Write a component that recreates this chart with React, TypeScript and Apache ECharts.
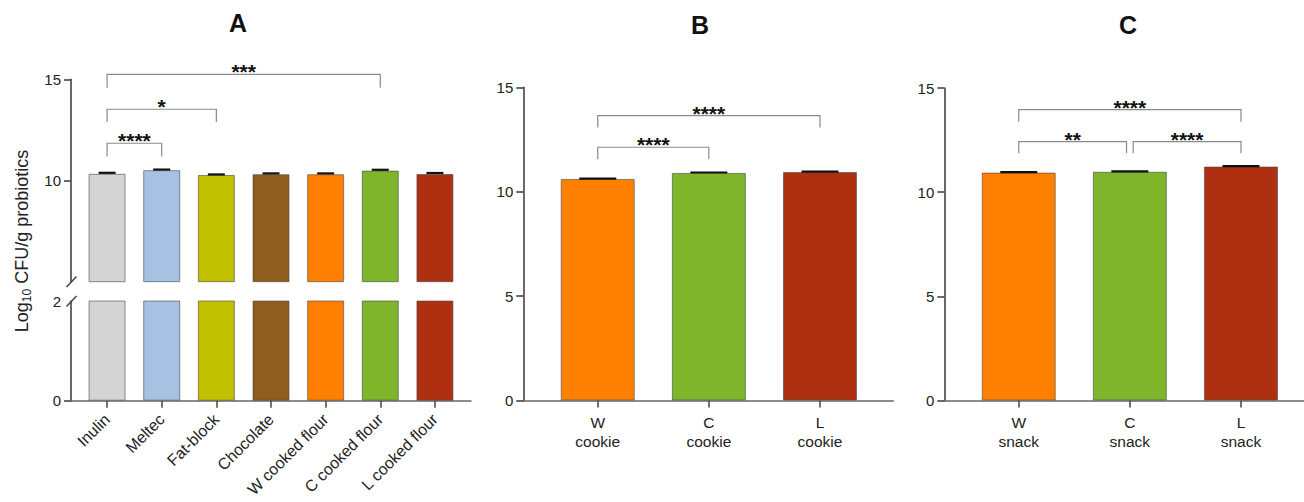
import React, { useEffect, useRef } from "react";
import * as echarts from "echarts";

const FONT = "'Liberation Sans', Arial, Helvetica, sans-serif";

const A_CATEGORIES = ["Inulin", "Meltec", "Fat-block", "Chocolate", "W cooked flour", "C cooked flour", "L cooked flour"];
const A_VALUES = [10.33, 10.51, 10.27, 10.31, 10.31, 10.49, 10.32];
const A_ERRORS = [0.05, 0.03, 0.03, 0.04, 0.04, 0.04, 0.05];
const A_COLORS = ["#D4D4D4", "#A6C1E2", "#C2C100", "#8F5E1F", "#FF8000", "#7FB52A", "#AF2F11"];
// bracket: [fromIndex, toIndex, barY, legY]
const A_BRACKETS = [
  [0, 1, 11.84, 11.18],
  [0, 2, 13.52, 12.89],
  [0, 5, 15.24, 14.58],
];
const A_STARS = ["****", "*", "***"];

const B_CATEGORIES = ["W\ncookie", "C\ncookie", "L\ncookie"];
const B_VALUES = [10.61, 10.9, 10.94];
const B_ERRORS = [0.02, 0.02, 0.02];
const B_COLORS = ["#FF8000", "#7FB52A", "#AF2F11"];
const B_BRACKETS = [
  [0, 2, 13.64, 13.08],
  [0, 1, 12.13, 11.55],
];
const B_STARS = ["****", "****"];

const C_CATEGORIES = ["W\nsnack", "C\nsnack", "L\nsnack"];
const C_VALUES = [10.94, 10.98, 11.23];
const C_ERRORS = [0.02, 0.02, 0.02];
const C_COLORS = ["#FF8000", "#7FB52A", "#AF2F11"];
const C_BRACKETS = [
  [0, 2, 13.96, 13.38],
  [0, 0.97, 12.43, 11.87],
  [1.03, 2, 12.43, 11.87],
];
const C_STARS = ["****", "**", "****"];

const AXIS_COLOR = "#444";
const TEXT_COLOR = "#222";
const BRACKET_COLOR = "#8a8a8a";

function barData(values: number[], colors: string[]) {
  return values.map((v, i) => ({
    value: [i, v],
    itemStyle: { color: colors[i] },
  }));
}

function barSeries(xi: number, yi: number, values: number[], colors: string[], width: number) {
  return {
    type: "bar",
    xAxisIndex: xi,
    yAxisIndex: yi,
    barWidth: width,
    clip: true,
    data: barData(values, colors),
    itemStyle: { borderColor: "rgba(70,70,70,0.6)", borderWidth: 1 },
  };
}

function errorSeries(xi: number, yi: number, values: number[], errors: number[], cap: number) {
  return {
    type: "custom",
    xAxisIndex: xi,
    yAxisIndex: yi,
    encode: { x: 0, y: 1 },
    data: values.map((v, i) => [i, v, errors[i]]),
    z: 5,
    renderItem: (params: any, api: any) => {
      const x = api.value(0);
      const v = api.value(1);
      const e = api.value(2);
      const base = api.coord([x, v]);
      const top = api.coord([x, v + e]);
      return {
        type: "group",
        children: [
          {
            type: "line",
            shape: { x1: base[0], y1: base[1], x2: top[0], y2: top[1] },
            style: { stroke: "#111", lineWidth: 1.5 },
          },
          {
            type: "line",
            shape: { x1: top[0] - cap / 2, y1: top[1], x2: top[0] + cap / 2, y2: top[1] },
            style: { stroke: "#111", lineWidth: 2.2 },
          },
        ],
      };
    },
  };
}

function bracketSeries(xi: number, yi: number, brackets: number[][], stars: string[]) {
  return {
    type: "custom",
    xAxisIndex: xi,
    yAxisIndex: yi,
    encode: { x: [0, 1], y: [2, 3] },
    clip: false,
    z: 6,
    data: brackets,
    renderItem: (params: any, api: any) => {
      const x1 = api.value(0);
      const x2 = api.value(1);
      const y = api.value(2);
      const yl = api.value(3);
      const p1 = api.coord([x1, yl]);
      const p2 = api.coord([x1, y]);
      const p3 = api.coord([x2, y]);
      const p4 = api.coord([x2, yl]);
      return {
        type: "group",
        children: [
          {
            type: "polyline",
            shape: { points: [p1, p2, p3, p4] },
            style: { stroke: BRACKET_COLOR, lineWidth: 1.2, fill: "none" },
          },
          {
            type: "text",
            style: {
              text: stars[params.dataIndex],
              x: (p2[0] + p3[0]) / 2,
              y: p2[1] - 2.5,
              align: "center",
              verticalAlign: "middle",
              fontFamily: FONT,
              fontWeight: "bold",
              fontSize: 21,
              fill: "#111",
            },
          },
        ],
      };
    },
  };
}

function catXAxis(gridIndex: number, cats: string[], min: number, max: number, rotate: number, fontSize: number, margin: number, show = true) {
  const idx = cats.map((_, i) => i);
  return {
    type: "value",
    gridIndex,
    min,
    max,
    show,
    splitLine: { show: false },
    axisLine: { show: true, onZero: false, lineStyle: { color: "#666", width: 1.5 } },
    axisTick: { show: true, length: 7, customValues: idx, lineStyle: { color: AXIS_COLOR, width: 1.5 } },
    axisLabel: {
      show: true,
      customValues: idx,
      rotate,
      margin,
      color: TEXT_COLOR,
      fontFamily: FONT,
      fontSize,
      lineHeight: 19,
      formatter: (v: number) => cats[Math.round(v)] ?? "",
    },
  };
}

function valYAxis(gridIndex: number, min: number, max: number, ticks: number[], labels: number[]) {
  return {
    type: "value",
    gridIndex,
    min,
    max,
    splitLine: { show: false },
    axisLine: { show: true, onZero: false, lineStyle: { color: AXIS_COLOR, width: 1.6 } },
    axisTick: { show: true, length: 7, customValues: ticks, lineStyle: { color: AXIS_COLOR, width: 1.6 } },
    axisLabel: {
      show: true,
      customValues: labels,
      margin: 10,
      color: TEXT_COLOR,
      fontFamily: FONT,
      fontSize: 15,
    },
  };
}

export default function App() {
  const ref = useRef<HTMLDivElement>(null);
  useEffect(() => {
    if (!ref.current) return;
    const chart = echarts.init(ref.current, null, { renderer: "svg", width: 1304, height: 502 });
    const option: any = {
      animation: false,
      backgroundColor: "#ffffff",
      grid: [
        { left: 71, top: 79.3, width: 400, height: 202.4, containLabel: false, outerBoundsMode: "none" },
        { left: 71, top: 301, width: 400, height: 99.7, containLabel: false, outerBoundsMode: "none" },
        { left: 523.3, top: 87.3, width: 370, height: 313.2, containLabel: false, outerBoundsMode: "none" },
        { left: 944.3, top: 88, width: 370, height: 312.5, containLabel: false, outerBoundsMode: "none" },
      ],
      xAxis: [
        catXAxis(0, A_CATEGORIES, -0.66, 6.66, 45, 16, 16, false),
        catXAxis(1, A_CATEGORIES, -0.66, 6.66, 45, 16, 16),
        catXAxis(2, B_CATEGORIES, -0.67, 2.66, 0, 15.5, 12),
        catXAxis(3, C_CATEGORIES, -0.67, 2.66, 0, 15.5, 12),
      ],
      yAxis: [
        valYAxis(0, 5, 15, [10, 15], [10, 15]),
        valYAxis(1, 0, 2, [0], [0, 2]),
        valYAxis(2, 0, 15, [0, 5, 10, 15], [0, 5, 10, 15]),
        valYAxis(3, 0, 15, [0, 5, 10, 15], [0, 5, 10, 15]),
      ],
      series: [
        barSeries(0, 0, A_VALUES, A_COLORS, 37),
        barSeries(1, 1, A_VALUES, A_COLORS, 37),
        errorSeries(0, 0, A_VALUES, A_ERRORS, 17),
        bracketSeries(0, 0, A_BRACKETS, A_STARS),
        barSeries(2, 2, B_VALUES, B_COLORS, 74),
        errorSeries(2, 2, B_VALUES, B_ERRORS, 37),
        bracketSeries(2, 2, B_BRACKETS, B_STARS),
        barSeries(3, 3, C_VALUES, C_COLORS, 74),
        errorSeries(3, 3, C_VALUES, C_ERRORS, 37),
        bracketSeries(3, 3, C_BRACKETS, C_STARS),
      ],
      graphic: [
        { type: "text", left: 229, top: 10, style: { text: "A", fontFamily: FONT, fontWeight: "bold", fontSize: 25, fill: "#111" } },
        { type: "text", left: 691, top: 12, style: { text: "B", fontFamily: FONT, fontWeight: "bold", fontSize: 25, fill: "#111" } },
        { type: "text", left: 1119, top: 12, style: { text: "C", fontFamily: FONT, fontWeight: "bold", fontSize: 25, fill: "#111" } },
        {
          type: "text",
          x: 22,
          y: 241,
          rotation: Math.PI / 2,
          style: {
            text: "{a|Log}{s|10}{a| CFU/g probiotics}",
            align: "center",
            verticalAlign: "middle",
            fill: TEXT_COLOR,
            rich: {
              a: { fontFamily: FONT, fontSize: 18, lineHeight: 21, fill: TEXT_COLOR },
              s: { fontFamily: FONT, fontSize: 12, lineHeight: 12, verticalAlign: "bottom", fill: TEXT_COLOR },
            },
          },
        },
        { type: "line", shape: { x1: 66.5, y1: 287, x2: 76.5, y2: 276.5 }, style: { stroke: AXIS_COLOR, lineWidth: 1.5 } },
        { type: "line", shape: { x1: 66.5, y1: 306.5, x2: 76.5, y2: 296 }, style: { stroke: AXIS_COLOR, lineWidth: 1.5 } },
      ],
    };
    chart.setOption(option);
    return () => chart.dispose();
  }, []);
  return (
    <div
      ref={ref}
      style={{ position: "absolute", left: 0, top: 0, width: 1304, height: 502, background: "#fff" }}
    />
  );
}
